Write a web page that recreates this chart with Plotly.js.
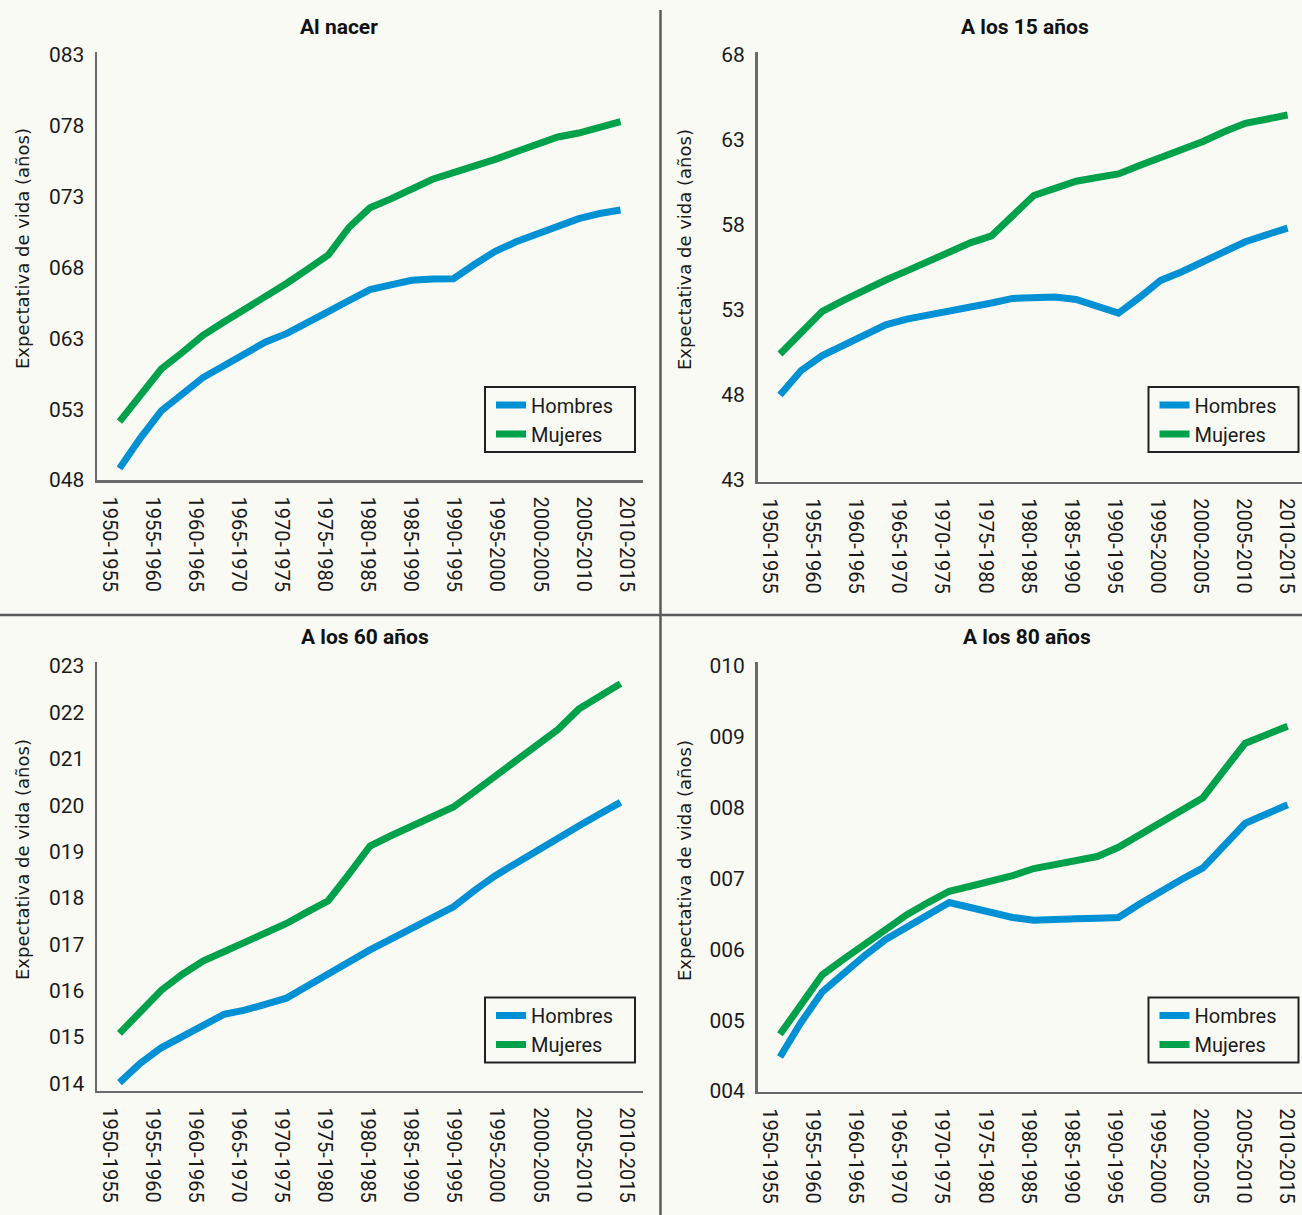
<!DOCTYPE html>
<html>
<head>
<meta charset="utf-8">
<script src="https://cdn.plot.ly/plotly-3.0.1.min.js"></script>
<style>
  html, body { margin: 0; padding: 0; background: #fafaf5; }
  #chart { width: 1302px; height: 1215px; }
</style>
</head>
<body>
<div id="chart"></div>
<script>
// ---------- DATA ----------
const periods = ['1950-1955','1955-1960','1960-1965','1965-1970','1970-1975','1975-1980',
  '1980-1985','1985-1990','1990-1995','1995-2000','2000-2005','2005-2010','2010-2015'];

const years = [1952.5,1955,1957.5,1960,1962.5,1965,1967.5,1970,1972.5,1975,1977.5,1980,1982.5,
  1985,1987.5,1990,1992.5,1995,1997.5,2000,2002.5,2005,2007.5,2010,2012.5];

const seriesNames = ['Hombres', 'Mujeres'];

const panelTitles = ['Al nacer', 'A los 15 años', 'A los 60 años', 'A los 80 años'];
const yTitle = 'Expectativa de vida (años)';

// Tick labels exactly as printed on the "Al nacer" axis
const nacerTickLabels = ['048','053','063','068','073','078','083'];

const nacerHombres = [53.82,55.96,57.88,59.06,60.23,61.07,61.90,62.74,63.33,64.05,64.88,65.67,66.44,
  66.77,67.10,67.19,67.21,68.21,69.14,69.81,70.37,70.88,71.45,71.81,72.06];
const nacerMujeres = [57.12,58.96,60.83,61.99,63.21,64.15,65.02,65.90,66.87,67.87,68.88,70.84,72.22,
  72.84,73.56,74.23,74.69,75.14,75.63,76.17,76.71,77.21,77.49,77.87,78.29];

const a15Hombres = [48.00,49.44,50.32,50.94,51.56,52.13,52.46,52.68,52.90,53.11,53.41,53.68,53.77,
  53.76,53.62,53.22,52.81,53.74,54.74,55.25,55.81,56.41,57.01,57.42,57.81];
const a15Mujeres = [50.41,51.72,52.92,53.57,54.21,54.76,55.30,55.85,56.41,56.95,57.36,58.49,59.73,
  60.15,60.57,60.79,61.00,61.50,61.97,62.43,62.91,63.48,63.98,64.22,64.47];

const a60Hombres = [14.02,14.44,14.77,15.00,15.25,15.49,15.58,15.72,15.84,16.10,16.37,16.64,16.88,
  17.11,17.35,17.58,17.81,18.16,18.48,18.75,19.03,19.29,19.55,19.81,20.06];
const a60Mujeres = [15.08,15.54,16.01,16.35,16.64,16.84,17.04,17.25,17.45,17.70,17.94,18.52,19.12,
  19.34,19.54,19.75,19.96,20.29,20.62,20.96,21.29,21.63,22.07,22.33,22.62];

const a80Hombres = [4.48,4.97,5.40,5.67,5.91,6.14,6.32,6.50,6.66,6.59,6.52,6.45,6.41,
  6.41,6.43,6.44,6.45,6.64,6.82,6.99,7.15,7.45,7.78,7.91,8.04];
const a80Mujeres = [4.80,5.24,5.64,5.86,6.08,6.30,6.49,6.66,6.82,6.89,6.96,7.04,7.14,
  7.19,7.24,7.31,7.44,7.61,7.79,7.97,8.14,8.53,8.91,9.03,9.15];

// ---------- LAYOUT HELPERS ----------
const W = 1302, H = 1215;
const BG = '#fafaf5';
const BLUE = '#0091d5', GREEN = '#00a14b';
const FONT = 'Roboto, "Liberation Sans", sans-serif';
const TICKFONT = {family: FONT, size: 20, color: '#1a1a1a'};

const px2x = p => p / W;
const px2y = p => 1 - p / H;

// per-panel geometry (pixels)
const panels = [
  {left: 97,    right: 643,  top: 52,    bottom: 480,    ppy: 8.35, yr: [53, 83.21],
   hom: nacerHombres, muj: nacerMujeres, title: [339, 27],   ytitle: [22, 249],
   box: [485, 387, 635, 452]},
  {left: 757.5, right: 1302, top: 51.7,  bottom: 481.7,  ppy: 8.46, yr: [42.9, 68.19],
   hom: a15Hombres, muj: a15Mujeres,     title: [1024.5, 27], ytitle: [684, 249],
   box: [1148.5, 387, 1298.5, 452]},
  {left: 97,    right: 643,  top: 662,   bottom: 1090.7, ppy: 8.35, yr: [13.845, 23.086],
   hom: a60Hombres, muj: a60Mujeres,     title: [365, 637],  ytitle: [22, 860],
   box: [485, 997.5, 635, 1062.5]},
  {left: 757.5, right: 1302, top: 661.7, bottom: 1091.7, ppy: 8.46, yr: [3.99, 10.06],
   hom: a80Hombres, muj: a80Mujeres,     title: [1026.5, 637], ytitle: [684, 860],
   box: [1148.5, 997.5, 1298.5, 1062.5]}
];

const traces = [];
const layout = {
  width: W, height: H,
  margin: {l: 0, r: 0, t: 0, b: 0},
  paper_bgcolor: BG, plot_bgcolor: BG,
  showlegend: true,
  annotations: [],
  shapes: [
    {type: 'line', xref: 'paper', yref: 'paper', x0: px2x(660.5), x1: px2x(660.5), y0: 0, y1: px2y(10),
     line: {color: '#5a5a5a', width: 2.5}},
    {type: 'line', xref: 'paper', yref: 'paper', x0: 0, x1: 1, y0: px2y(615), y1: px2y(615),
     line: {color: '#5a5a5a', width: 2.5}}
  ]
};

panels.forEach((p, i) => {
  const n = i + 1;
  const xa = 'xaxis' + (n === 1 ? '' : n), ya = 'yaxis' + (n === 1 ? '' : n);
  const xr = 'x' + (n === 1 ? '' : n), yr = 'y' + (n === 1 ? '' : n);
  const lg = 'legend' + (n === 1 ? '' : n);

  const x0 = years[0] - 22.5 / p.ppy;
  const x1 = years[0] + (p.right - p.left - 22.5) / p.ppy;
  const tickvals = periods.map((_, k) => x0 + (12 + 43.1 * k) / p.ppy);

  traces.push({
    x: years, y: p.hom, name: seriesNames[0], type: 'scatter', mode: 'lines',
    line: {color: BLUE, width: 7}, xaxis: xr, yaxis: yr, legend: lg, hoverinfo: 'skip'
  });
  traces.push({
    x: years, y: p.muj, name: seriesNames[1], type: 'scatter', mode: 'lines',
    line: {color: GREEN, width: 7}, xaxis: xr, yaxis: yr, legend: lg, hoverinfo: 'skip'
  });

  layout[xa] = {
    domain: [px2x(p.left), px2x(p.right)], range: [x0, x1], anchor: yr,
    tickmode: 'array', tickvals: tickvals, ticktext: periods, tickangle: 90,
    showline: true, linecolor: '#6a6a6a', linewidth: 2.5, showgrid: false, zeroline: false,
    ticks: 'outside', ticklen: 10, tickcolor: 'rgba(0,0,0,0)', tickfont: TICKFONT, fixedrange: true
  };
  const yax = {
    domain: [px2y(p.bottom), px2y(p.top)], range: p.yr, anchor: xr,
    showline: true, linecolor: '#6a6a6a', linewidth: 2.5, showgrid: false, zeroline: false,
    ticks: 'outside', ticklen: 6, tickcolor: 'rgba(0,0,0,0)',
    tickfont: Object.assign({}, TICKFONT, {size: 21}), fixedrange: true
  };
  if (n === 1) {
    yax.tickmode = 'array';
    yax.tickvals = nacerTickLabels.map((_, k) => 53 + 5 * k);
    yax.ticktext = nacerTickLabels;
  } else if (n === 2) {
    yax.tickmode = 'linear'; yax.tick0 = 43; yax.dtick = 5;
  } else {
    yax.tickmode = 'linear'; yax.tick0 = 0; yax.dtick = 1; yax.tickformat = '03d';
  }
  layout[ya] = yax;

  // legend frame
  layout.shapes.push({
    type: 'rect', xref: 'paper', yref: 'paper',
    x0: px2x(p.box[0]), x1: px2x(p.box[2]), y0: px2y(p.box[3]), y1: px2y(p.box[1]),
    line: {color: '#222', width: 2}, fillcolor: 'rgba(0,0,0,0)'
  });
  layout[lg] = {
    x: px2x(p.box[0] + 6), y: px2y(p.box[1] - 1.5), xanchor: 'left', yanchor: 'top',
    xref: 'paper', yref: 'paper',
    bgcolor: 'rgba(0,0,0,0)', borderwidth: 0,
    font: {family: FONT, size: 20, color: '#1a1a1a'},
    itemwidth: 30, tracegroupgap: 0
  };

  layout.annotations.push({
    text: '<b>' + panelTitles[i] + '</b>', xref: 'paper', yref: 'paper',
    x: px2x(p.title[0]), y: px2y(p.title[1]), xanchor: 'center', yanchor: 'middle', showarrow: false,
    font: {family: FONT, size: 21, color: '#111'}
  });
  layout.annotations.push({
    text: yTitle, xref: 'paper', yref: 'paper', textangle: -90,
    x: px2x(p.ytitle[0]), y: px2y(p.ytitle[1]), xanchor: 'center', yanchor: 'middle', showarrow: false,
    font: {family: '"DejaVu Sans", sans-serif', size: 18, color: '#1a1a1a'}
  });
});

Plotly.newPlot('chart', traces, layout, {staticPlot: true, displayModeBar: false});
</script>
</body>
</html>
